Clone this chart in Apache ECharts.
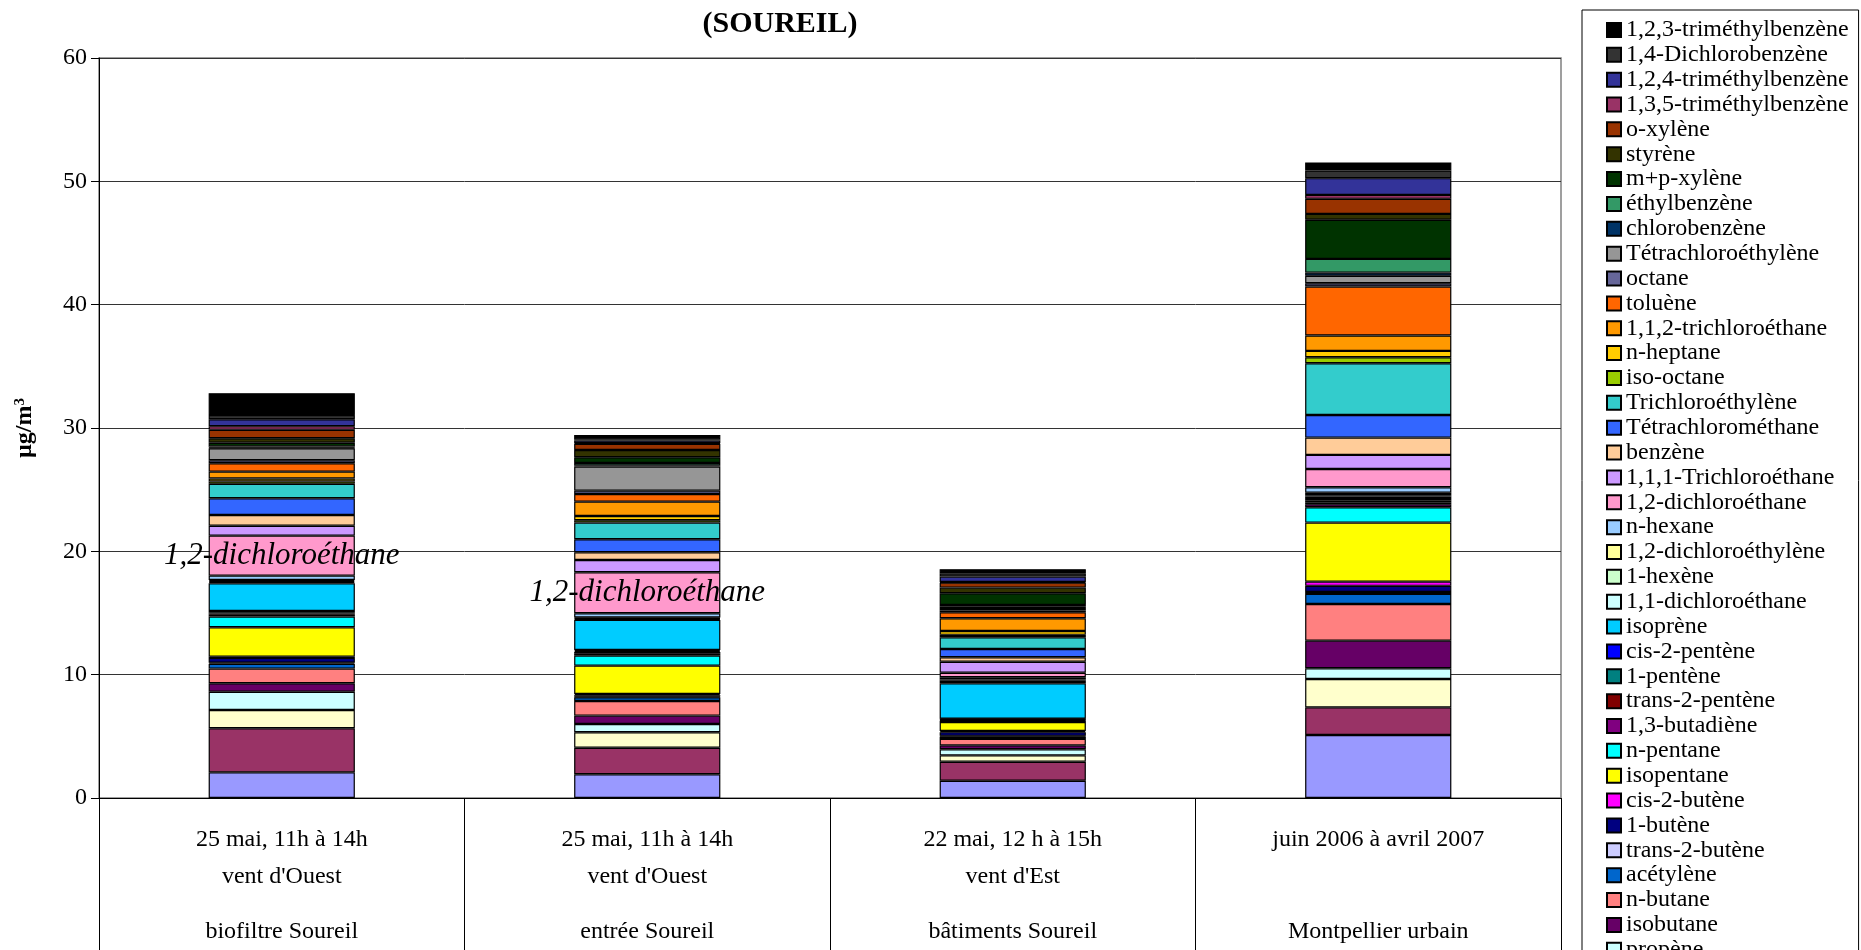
<!DOCTYPE html>
<html>
<head>
<meta charset="utf-8">
<script src="https://cdn.jsdelivr.net/npm/echarts@6/dist/echarts.min.js"></script>
<style>html,body{margin:0;padding:0;background:#fff}#c{width:1861px;height:950px}</style>
</head>
<body>
<div id="c"></div>
<script>
// Categories (sites)
const dates = ["25 mai, 11h à 14h", "25 mai, 11h à 14h", "22 mai, 12 h à 15h", "juin 2006 à avril 2007"];
const winds = ["vent d'Ouest", "vent d'Ouest", "vent d'Est", ""];
const sites = ["biofiltre Soureil", "entrée Soureil", "bâtiments Soureil", "Montpellier urbain"];

// Compounds, stacking order from bottom to top
const compounds = ["éthane","éthylène","propane","propène","isobutane","n-butane","acétylène","trans-2-butène","1-butène","cis-2-butène",
  "isopentane","n-pentane","1,3-butadiène","trans-2-pentène","1-pentène","cis-2-pentène","isoprène","1,1-dichloroéthane","1-hexène","1,2-dichloroéthylène",
  "n-hexane","1,2-dichloroéthane","1,1,1-Trichloroéthane","benzène","Tétrachlorométhane","Trichloroéthylène","iso-octane","n-heptane","1,1,2-trichloroéthane","toluène",
  "octane","Tétrachloroéthylène","chlorobenzène","éthylbenzène","m+p-xylène","styrène","o-xylène","1,3,5-triméthylbenzène","1,2,4-triméthylbenzène","1,4-Dichlorobenzène","1,2,3-triméthylbenzène"];

// µg/m3 values per site, same order as compounds
const biofiltre = [2.08,3.57,1.49,1.48,0.68,1.19,0.40,0.08,0.39,0.10,
  2.38,0.87,0.15,0.10,0.10,0.11,2.24,0.09,0.09,0.09,
  0.35,3.24,0.81,0.87,1.35,1.17,0.20,0.24,0.55,0.68,
  0.25,0.97,0.05,0.10,0.30,0.36,0.68,0.30,0.56,0.35,1.76];
const entree = [1.92,2.16,1.25,0.67,0.68,1.19,0.30,0.05,0.12,0.09,
  2.30,0.81,0.20,0.10,0.08,0.08,2.44,0.07,0.06,0.06,
  0.35,3.32,1.00,0.63,1.05,1.35,0.20,0.34,1.16,0.62,
  0.27,1.95,0.10,0.20,0.46,0.59,0.49,0.05,0.22,0.10,0.36];
const batiments = [1.40,1.54,0.52,0.49,0.32,0.52,0.20,0.05,0.30,0.09,
  0.73,0.10,0.05,0.04,0.04,0.04,2.87,0.10,0.10,0.10,
  0.19,0.37,0.89,0.36,0.67,0.95,0.20,0.31,1.03,0.49,
  0.14,0.21,0.10,0.14,0.95,0.46,0.40,0.05,0.44,0.27,0.33];
const montpellier = [5.11,2.24,2.30,0.87,2.24,2.97,0.82,0.15,0.50,0.34,
  4.79,1.24,0.25,0.15,0.14,0.14,0.19,0.11,0.10,0.11,
  0.44,1.48,1.14,1.40,1.84,4.19,0.49,0.51,1.25,3.97,
  0.27,0.60,0.26,1.11,3.17,0.48,1.22,0.32,1.36,0.62,0.65];

const yTicks = [0,10,20,30,40,50,60];

// Colours (styles), same order as compounds
const colors = ["#9999FF","#993366","#FFFFCC","#CCFFFF","#660066","#FF8080","#0066CC","#CCCCFF","#000080","#FF00FF",
  "#FFFF00","#00FFFF","#800080","#800000","#008080","#0000FF","#00CCFF","#CCFFFF","#CCFFCC","#FFFF99",
  "#99CCFF","#FF99CC","#CC99FF","#FFCC99","#3366FF","#33CCCC","#99CC00","#FFCC00","#FF9900","#FF6600",
  "#666699","#969696","#003366","#339966","#003300","#333300","#993300","#993366","#333399","#333333","#000000"];

const siteData = [biofiltre, entree, batiments, montpellier];
const FONT = "'Liberation Serif', 'Times New Roman', serif";
const annotated = "1,2-dichloroéthane";

const series = compounds.map((name, i) => ({
  name: name,
  type: 'bar',
  stack: 'total',
  barWidth: '40%',
  itemStyle: { color: colors[i], borderColor: '#000', borderWidth: 1.2 },
  emphasis: { disabled: true },
  data: siteData.map((arr, k) => {
    const item = { value: arr[i] };
    if (name === annotated && k < 2) {
      item.label = {
        show: true, position: 'inside', formatter: name,
        fontFamily: FONT, fontStyle: 'italic', fontSize: 31, color: '#000'
      };
    }
    return item;
  })
}));

const chart = echarts.init(document.getElementById('c'));
chart.setOption({
  animation: false,
  color: colors,
  graphic: [{
    type: 'text', x: 780, y: 24,
    style: { text: '(SOUREIL)', fontFamily: FONT, fontWeight: 'bold', fontSize: 30,
      fill: '#000', align: 'center', verticalAlign: 'middle' }
  }],
  grid: { left: 99, right: 300, top: 58, bottom: 152, show: true, borderColor: '#808080', borderWidth: 1.5 },
  legend: {
    orient: 'vertical', left: 1582, top: 10, height: 1200,
    padding: [7.5, 10, 10, 24],
    borderColor: '#000', borderWidth: 1,
    itemWidth: 14, itemHeight: 14, itemGap: 0, icon: 'rect',
    data: compounds.slice().reverse(),
    textStyle: { fontFamily: FONT, fontSize: 24, color: '#000', lineHeight: 24.86 },
    selectedMode: false
  },
  xAxis: {
    type: 'category',
    data: sites,
    axisLine: { lineStyle: { color: '#000', width: 1 } },
    axisTick: { show: true, interval: 0, length: 160, lineStyle: { color: '#000' } },
    axisLabel: {
      interval: 0, margin: 23,
      formatter: (v, idx) => '{a|' + dates[idx] + '}\n{a|' + (winds[idx] || ' ') + '}\n{s| }\n{a|' + v + '}',
      rich: {
        a: { fontFamily: FONT, fontSize: 24, color: '#000', lineHeight: 37 },
        s: { fontSize: 10, lineHeight: 18 }
      }
    }
  },
  yAxis: {
    type: 'value', min: 0, max: 60, interval: 10,
    name: '{a|µg/m}{b|3}', nameLocation: 'middle', nameGap: 62, nameRotate: 90,
    nameTextStyle: {
      rich: {
        a: { fontFamily: FONT, fontSize: 24, fontWeight: 'bold', color: '#000' },
        b: { fontFamily: FONT, fontSize: 15, fontWeight: 'bold', color: '#000', verticalAlign: 'top' }
      }
    },
    axisLine: { show: true, lineStyle: { color: '#000' } },
    axisTick: { show: true, length: 8, lineStyle: { color: '#000' } },
    axisLabel: { fontFamily: FONT, fontSize: 24, color: '#000', margin: 12,
      formatter: v => yTicks.includes(v) ? String(v) : '' },
    splitLine: { lineStyle: { color: '#333', width: 1 } }
  },
  series: series
});
</script>
</body>
</html>
